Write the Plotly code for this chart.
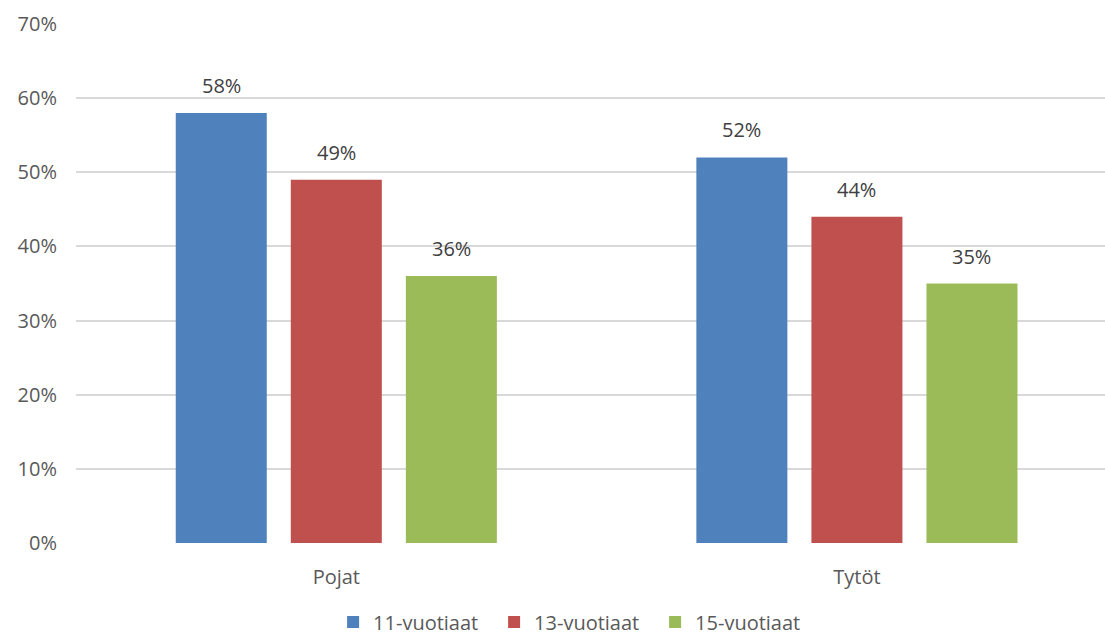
import plotly.graph_objects as go

categories = ["Pojat", "Tytöt"]
series_names = ["11-vuotiaat", "13-vuotiaat", "15-vuotiaat"]
values_11 = [58, 52]
values_13 = [49, 44]
values_15 = [36, 35]
y_ticks = [0, 10, 20, 30, 40, 50, 60, 70]

colors = ["#4F81BD", "#C0504D", "#9BBB59"]
series_values = [values_11, values_13, values_15]
FONT = "Open Sans, Liberation Sans, sans-serif"
FS = 20

xpos = list(range(len(categories)))
fig = go.Figure()
for name, vals, col in zip(series_names, series_values, colors):
    fig.add_trace(go.Bar(x=xpos, y=vals, name=name, marker=dict(color=col, line=dict(width=0))))

bargap = 0.337
groupgap = 0.209
slot = (1 - bargap) / len(series_names)
annotations = []
for i, vals in enumerate(series_values):
    off = (i - (len(series_names) - 1) / 2) * slot
    for xi, v in zip(xpos, vals):
        annotations.append(dict(x=xi + off, y=v, text=f"{v}%", showarrow=False,
                                yanchor="bottom", yshift=12,
                                font=dict(family=FONT, size=FS, color="#404040")))

fig.update_layout(
    width=1105, height=636,
    margin=dict(l=76, r=0, t=24, b=93),
    paper_bgcolor="white", plot_bgcolor="white",
    barmode="group", bargap=bargap, bargroupgap=groupgap,
    font=dict(family=FONT, size=FS, color="#595959"),
    annotations=annotations,
    legend=dict(orientation="h", xref="container", yref="container",
                x=0.52, xanchor="center", y=0.022, yanchor="middle",
                font=dict(family=FONT, size=FS, color="#595959"),
                itemwidth=30, entrywidth=116, entrywidthmode="pixels", tracegroupgap=0),
    showlegend=True,
)
fig.update_xaxes(range=[-0.5, 1.4765], tickvals=xpos, ticktext=categories,
                 showgrid=False, zeroline=False, showline=False, ticks="",
                 ticklabelstandoff=20, tickfont=dict(family=FONT, size=FS, color="#595959"))
fig.update_yaxes(range=[0, 70], tickvals=y_ticks, ticktext=[f"{t}%" for t in y_ticks],
                 showgrid=True, gridcolor="#D9D9D9", gridwidth=1.5, zeroline=False,
                 showline=False, ticks="", ticklabelstandoff=18,
                 tickfont=dict(family=FONT, size=FS, color="#595959"))
fig.write_html("out.html")
